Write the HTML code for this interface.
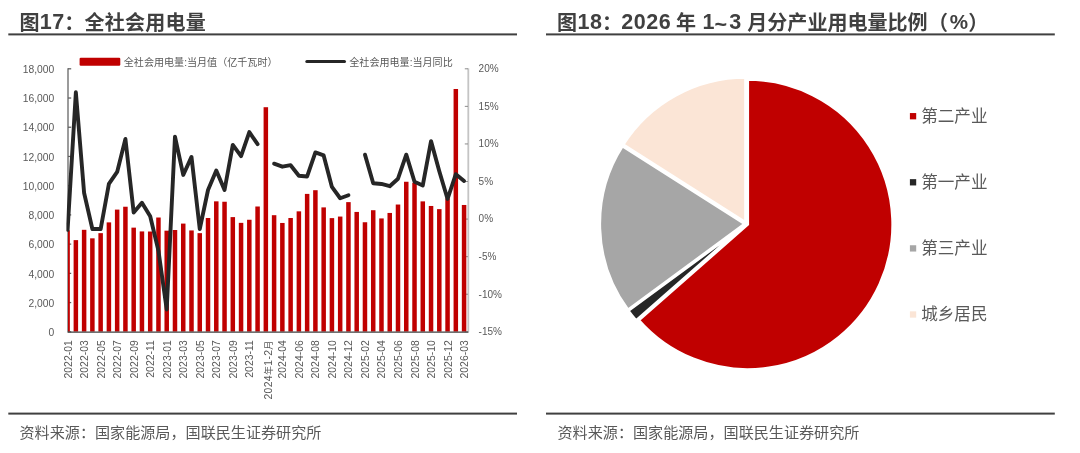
<!DOCTYPE html>
<html lang="zh-CN"><head><meta charset="utf-8"><title>图17 全社会用电量 / 图18 分产业用电量比例</title>
<style>html,body{margin:0;padding:0;background:#fff}body{width:1080px;height:453px;overflow:hidden}svg{display:block}text{white-space:pre}</style>
</head><body>
<svg width="1080" height="453" viewBox="0 0 1080 453" font-family='"Liberation Sans","Noto Sans CJK SC",sans-serif'>
<rect width="1080" height="453" fill="#fff"/>
<text font-weight="700" fill="#404040" id="t1"><tspan x="19.4" y="29.5" font-size="20.05">图</tspan><tspan x="39.8" y="28.6" font-size="21.5" letter-spacing="0.55">17</tspan><tspan x="64.2" y="29.5" font-size="20.05">：</tspan><tspan x="84.4" y="29.5" font-size="20.05" letter-spacing="0.25">全社会用电量</tspan></text>
<text font-weight="700" fill="#404040" id="t2"><tspan x="556.9" y="29.5" font-size="20.05">图</tspan><tspan x="577.5" y="28.6" font-size="21.5" letter-spacing="0.55">18</tspan><tspan x="601.9" y="29.5" font-size="20.05">：</tspan><tspan x="621.2" y="28.6" font-size="21.5" letter-spacing="0.55">2026 </tspan><tspan x="676.1" y="29.5" font-size="20.05">年 </tspan><tspan x="702.6" y="28.6" font-size="21.5">1</tspan><tspan x="714.5" y="31.8" font-size="21.5">~</tspan><tspan x="729.3" y="28.6" font-size="21.5">3 </tspan><tspan x="747.3" y="29.5" font-size="20.05">月分产业用电量比例</tspan><tspan x="928.1" y="29.5" font-size="20.05">（</tspan><tspan x="949.7" y="28.6" font-size="20.6">%</tspan><tspan x="968.2" y="29.5" font-size="20.05">）</tspan></text>
<rect x="8.3" y="33.4" width="508.7" height="2" fill="#404040"/>
<rect x="546" y="33.4" width="508.8" height="2" fill="#404040"/>
<rect x="8.3" y="412.6" width="508.7" height="2" fill="#404040"/>
<rect x="546" y="412.6" width="508.8" height="2" fill="#404040"/>
<text x="19.5" y="437.5" font-size="15.1" fill="#595959" id="s1">资料来源：国家能源局，国联民生证券研究所</text>
<text x="557.5" y="437.5" font-size="15.1" fill="#595959" id="s2">资料来源：国家能源局，国联民生证券研究所</text>
<g stroke="#5f5f5f" stroke-width="1.25" fill="none">
<line x1="68.0" y1="68.3" x2="68.0" y2="331.8"/>
<line x1="68.0" y1="331.80" x2="71.2" y2="331.80"/>
<line x1="68.0" y1="302.58" x2="71.2" y2="302.58"/>
<line x1="68.0" y1="273.36" x2="71.2" y2="273.36"/>
<line x1="68.0" y1="244.13" x2="71.2" y2="244.13"/>
<line x1="68.0" y1="214.91" x2="71.2" y2="214.91"/>
<line x1="68.0" y1="185.69" x2="71.2" y2="185.69"/>
<line x1="68.0" y1="156.47" x2="71.2" y2="156.47"/>
<line x1="68.0" y1="127.24" x2="71.2" y2="127.24"/>
<line x1="68.0" y1="98.02" x2="71.2" y2="98.02"/>
<line x1="68.0" y1="68.80" x2="71.2" y2="68.80"/>
</g>
<line x1="468.3" y1="68.3" x2="468.3" y2="331.8" stroke="#c4c4c4" stroke-width="1.8"/>
<g stroke="#8c8c8c" stroke-width="1" fill="none">
<line x1="464.8" y1="331.80" x2="468.0" y2="331.80"/>
<line x1="464.8" y1="294.23" x2="468.0" y2="294.23"/>
<line x1="464.8" y1="256.66" x2="468.0" y2="256.66"/>
<line x1="464.8" y1="219.09" x2="468.0" y2="219.09"/>
<line x1="464.8" y1="181.51" x2="468.0" y2="181.51"/>
<line x1="464.8" y1="143.94" x2="468.0" y2="143.94"/>
<line x1="464.8" y1="106.37" x2="468.0" y2="106.37"/>
<line x1="464.8" y1="68.80" x2="468.0" y2="68.80"/>
</g>
<defs><clipPath id="pc"><rect x="68.0" y="60" width="400.0" height="271.8"/></clipPath><clipPath id="pl"><rect x="66.4" y="60" width="401.6" height="271.8"/></clipPath></defs>
<g clip-path="url(#pc)" fill="#c00000">
<rect x="65.35" y="230.28" width="4.5" height="101.52"/>
<rect x="73.61" y="240.12" width="4.5" height="91.68"/>
<rect x="81.87" y="229.81" width="4.5" height="101.99"/>
<rect x="90.13" y="238.33" width="4.5" height="93.47"/>
<rect x="98.39" y="233.15" width="4.5" height="98.65"/>
<rect x="106.65" y="222.38" width="4.5" height="109.42"/>
<rect x="114.91" y="209.60" width="4.5" height="122.20"/>
<rect x="123.17" y="206.73" width="4.5" height="125.07"/>
<rect x="131.43" y="227.64" width="4.5" height="104.16"/>
<rect x="139.69" y="231.42" width="4.5" height="100.38"/>
<rect x="147.95" y="231.51" width="4.5" height="100.29"/>
<rect x="156.21" y="217.51" width="4.5" height="114.29"/>
<rect x="164.47" y="230.67" width="4.5" height="101.13"/>
<rect x="172.73" y="230.01" width="4.5" height="101.79"/>
<rect x="180.99" y="223.59" width="4.5" height="108.21"/>
<rect x="189.25" y="230.44" width="4.5" height="101.36"/>
<rect x="197.51" y="233.15" width="4.5" height="98.65"/>
<rect x="205.77" y="217.99" width="4.5" height="113.81"/>
<rect x="214.03" y="201.34" width="4.5" height="130.46"/>
<rect x="222.29" y="201.74" width="4.5" height="130.06"/>
<rect x="230.55" y="217.11" width="4.5" height="114.69"/>
<rect x="238.81" y="222.85" width="4.5" height="108.95"/>
<rect x="247.07" y="219.76" width="4.5" height="112.04"/>
<rect x="255.33" y="206.50" width="4.5" height="125.30"/>
<rect x="263.59" y="107.21" width="4.5" height="224.59"/>
<rect x="271.85" y="215.19" width="4.5" height="116.61"/>
<rect x="280.11" y="222.96" width="4.5" height="108.84"/>
<rect x="288.37" y="217.99" width="4.5" height="113.81"/>
<rect x="296.63" y="211.34" width="4.5" height="120.46"/>
<rect x="304.89" y="193.90" width="4.5" height="137.90"/>
<rect x="313.15" y="190.20" width="4.5" height="141.60"/>
<rect x="321.41" y="207.39" width="4.5" height="124.41"/>
<rect x="329.67" y="218.12" width="4.5" height="113.68"/>
<rect x="337.93" y="216.56" width="4.5" height="115.24"/>
<rect x="346.19" y="202.12" width="4.5" height="129.68"/>
<rect x="354.45" y="211.93" width="4.5" height="119.87"/>
<rect x="362.71" y="222.25" width="4.5" height="109.55"/>
<rect x="370.97" y="210.21" width="4.5" height="121.59"/>
<rect x="379.23" y="218.43" width="4.5" height="113.37"/>
<rect x="387.49" y="212.94" width="4.5" height="118.86"/>
<rect x="395.75" y="204.53" width="4.5" height="127.27"/>
<rect x="404.01" y="181.75" width="4.5" height="150.05"/>
<rect x="412.27" y="182.80" width="4.5" height="149.00"/>
<rect x="420.53" y="201.37" width="4.5" height="130.43"/>
<rect x="428.79" y="205.97" width="4.5" height="125.83"/>
<rect x="437.05" y="209.13" width="4.5" height="122.67"/>
<rect x="445.31" y="198.24" width="4.5" height="133.56"/>
<rect x="453.57" y="88.99" width="4.5" height="242.81"/>
<rect x="461.83" y="204.97" width="4.5" height="126.83"/>
</g>
<g clip-path="url(#pl)" fill="none" stroke="#262626" stroke-width="3.9" stroke-linejoin="round" stroke-linecap="round">
<polyline points="67.60,229.81 75.86,92.29 84.12,192.99 92.38,229.05 100.64,229.05 108.90,183.97 117.16,171.95 125.42,138.88 133.68,212.52 141.94,202.75 150.20,216.28 158.46,250.85 166.72,309.46 174.98,136.63 183.24,174.95 191.50,156.92 199.76,229.05 208.02,189.98 216.28,170.44 224.54,189.98 232.80,144.89 241.06,156.17 249.32,132.12 257.58,144.14"/>
<polyline points="274.10,163.68 282.36,166.69 290.62,165.18 298.88,175.70 307.14,176.45 315.40,152.41 323.66,155.41 331.92,186.97 340.18,198.25 348.44,195.24"/>
<polyline points="364.96,154.66 373.22,183.22 381.48,183.97 389.74,186.22 398.00,178.71 406.26,154.66 414.52,181.71 422.78,185.47 431.04,141.14 439.30,171.19 447.56,199.00 455.82,174.20 464.08,180.96"/>
</g>
<line x1="67.5" y1="332.1" x2="468.5" y2="332.1" stroke="#404040" stroke-width="1.3"/>
<g font-size="10" fill="#595959">
<text x="54.3" y="335.95" text-anchor="end" font-size="10.3">0</text>
<text x="54.3" y="306.73" text-anchor="end" font-size="10.3">2,000</text>
<text x="54.3" y="277.51" text-anchor="end" font-size="10.3">4,000</text>
<text x="54.3" y="248.28" text-anchor="end" font-size="10.3">6,000</text>
<text x="54.3" y="219.06" text-anchor="end" font-size="10.3">8,000</text>
<text x="54.3" y="189.84" text-anchor="end" font-size="10.3">10,000</text>
<text x="54.3" y="160.62" text-anchor="end" font-size="10.3">12,000</text>
<text x="54.3" y="131.39" text-anchor="end" font-size="10.3">14,000</text>
<text x="54.3" y="102.17" text-anchor="end" font-size="10.3">16,000</text>
<text x="54.3" y="72.95" text-anchor="end" font-size="10.3">18,000</text>
<text x="478.6" y="335.20">-15%</text>
<text x="478.6" y="297.63">-10%</text>
<text x="478.6" y="260.06">-5%</text>
<text x="478.6" y="222.49">0%</text>
<text x="478.6" y="184.91">5%</text>
<text x="478.6" y="147.34">10%</text>
<text x="478.6" y="109.77">15%</text>
<text x="478.6" y="72.20">20%</text>
<text transform="translate(71.60,340.3) rotate(-90)" text-anchor="end" font-size="10.4">2022-01</text>
<text transform="translate(88.12,340.3) rotate(-90)" text-anchor="end" font-size="10.4">2022-03</text>
<text transform="translate(104.64,340.3) rotate(-90)" text-anchor="end" font-size="10.4">2022-05</text>
<text transform="translate(121.16,340.3) rotate(-90)" text-anchor="end" font-size="10.4">2022-07</text>
<text transform="translate(137.68,340.3) rotate(-90)" text-anchor="end" font-size="10.4">2022-09</text>
<text transform="translate(154.20,340.3) rotate(-90)" text-anchor="end" font-size="10.4">2022-11</text>
<text transform="translate(170.72,340.3) rotate(-90)" text-anchor="end" font-size="10.4">2023-01</text>
<text transform="translate(187.24,340.3) rotate(-90)" text-anchor="end" font-size="10.4">2023-03</text>
<text transform="translate(203.76,340.3) rotate(-90)" text-anchor="end" font-size="10.4">2023-05</text>
<text transform="translate(220.28,340.3) rotate(-90)" text-anchor="end" font-size="10.4">2023-07</text>
<text transform="translate(236.80,340.3) rotate(-90)" text-anchor="end" font-size="10.4">2023-09</text>
<text transform="translate(253.32,340.3) rotate(-90)" text-anchor="end" font-size="10.4">2023-11</text>
<text transform="translate(272.14,340.3) rotate(-90)" text-anchor="end" font-size="10.4" letter-spacing="0.35">2024<tspan font-size="9">年</tspan>1-2<tspan font-size="9">月</tspan></text>
<text transform="translate(286.36,340.3) rotate(-90)" text-anchor="end" font-size="10.4">2024-04</text>
<text transform="translate(302.88,340.3) rotate(-90)" text-anchor="end" font-size="10.4">2024-06</text>
<text transform="translate(319.40,340.3) rotate(-90)" text-anchor="end" font-size="10.4">2024-08</text>
<text transform="translate(335.92,340.3) rotate(-90)" text-anchor="end" font-size="10.4">2024-10</text>
<text transform="translate(352.44,340.3) rotate(-90)" text-anchor="end" font-size="10.4">2024-12</text>
<text transform="translate(368.96,340.3) rotate(-90)" text-anchor="end" font-size="10.4">2025-02</text>
<text transform="translate(385.48,340.3) rotate(-90)" text-anchor="end" font-size="10.4">2025-04</text>
<text transform="translate(402.00,340.3) rotate(-90)" text-anchor="end" font-size="10.4">2025-06</text>
<text transform="translate(418.52,340.3) rotate(-90)" text-anchor="end" font-size="10.4">2025-08</text>
<text transform="translate(435.04,340.3) rotate(-90)" text-anchor="end" font-size="10.4">2025-10</text>
<text transform="translate(451.56,340.3) rotate(-90)" text-anchor="end" font-size="10.4">2025-12</text>
<text transform="translate(468.08,340.3) rotate(-90)" text-anchor="end" font-size="10.4">2026-03</text>
</g>
<rect x="79.6" y="57.7" width="40.7" height="8" rx="1.2" fill="#c00000"/>
<text x="123.8" y="65.6" font-size="10.07" fill="#595959" id="l1">全社会用电量:当月值（亿千瓦时）</text>
<line x1="306.8" y1="61.6" x2="344.5" y2="61.6" stroke="#262626" stroke-width="3" stroke-linecap="round"/>
<text x="349.3" y="65.6" font-size="10.07" fill="#595959" id="l2">全社会用电量:当月同比</text>
<g stroke="#fff" stroke-width="2.74" stroke-linejoin="miter" stroke-miterlimit="40">
<path transform="translate(-1.21,0.97)" d="M746.3,223.86 L637.28,319.47 A145.0,145.0 0 0 1 629.52,309.80 Z" fill="#262626" stroke-linejoin="bevel"/>
<path transform="translate(1.41,0.64)" d="M746.3,223.86 L746.30,78.86 A145.0,145.0 0 1 1 637.28,319.47 Z" fill="#c00000"/>
<path transform="translate(-1.55,0.05)" d="M746.3,223.86 L629.52,309.80 A145.0,145.0 0 0 1 624.01,145.95 Z" fill="#a6a6a6"/>
<path transform="translate(-0.75,-1.36)" d="M746.3,223.86 L624.01,145.95 A145.0,145.0 0 0 1 746.30,78.86 Z" fill="#fbe5d6"/>
</g>
<rect x="909.9" y="113.05" width="6.3" height="6.3" fill="#c00000"/>
<text x="921.2" y="121.90" font-size="16.6" fill="#595959" class="pl">第二产业</text>
<rect x="909.9" y="179.15" width="6.3" height="6.3" fill="#262626"/>
<text x="921.2" y="188.00" font-size="16.6" fill="#595959" class="pl">第一产业</text>
<rect x="909.9" y="245.25" width="6.3" height="6.3" fill="#a6a6a6"/>
<text x="921.2" y="254.10" font-size="16.6" fill="#595959" class="pl">第三产业</text>
<rect x="909.9" y="311.35" width="6.3" height="6.3" fill="#fbe5d6"/>
<text x="921.2" y="320.20" font-size="16.6" fill="#595959" class="pl">城乡居民</text>
</svg>
</body></html>
